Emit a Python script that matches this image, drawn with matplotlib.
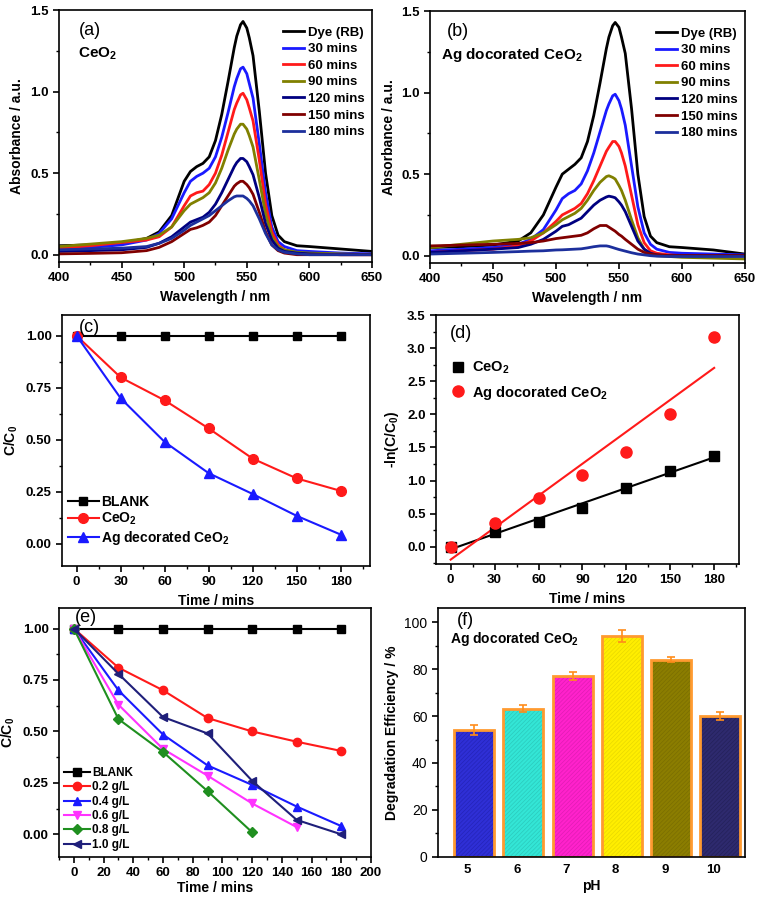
import numpy as np
import matplotlib
matplotlib.use('Agg')
import matplotlib.pyplot as plt
from matplotlib.ticker import MultipleLocator, FormatStrFormatter

plt.rcParams['font.family'] = ['Liberation Sans', 'DejaVu Sans']
plt.rcParams['font.weight'] = 'bold'
plt.rcParams['axes.labelweight'] = 'bold'
plt.rcParams['mathtext.default'] = 'regular'
plt.rcParams['axes.linewidth'] = 1.2
plt.rcParams['hatch.linewidth'] = 0.5
plt.rcParams['lines.solid_joinstyle'] = 'round'

# ---- UV-vis spectra (a) CeO2 and (b) Ag decorated CeO2 ----
wavelength = [400, 425, 450, 470, 480, 490, 500, 505, 510, 515, 520, 525, 530, 535,
              540, 542, 545, 547, 550, 552, 555, 560, 565, 570, 575, 580, 590, 600, 625, 650]
spec_labels = ['Dye (RB)', '30 mins', '60 mins', '90 mins', '120 mins', '150 mins', '180 mins']
spec_colors = ['black', '#1a1aff', '#ff1a1a', '#808000', '#000080', '#800000', '#1c2f9c']

a_dye = [.055, .06, .07, .10, .14, .24, .45, .51, .54, .56, .60, .70, .86, 1.06, 1.27, 1.34, 1.41, 1.43,
         1.39, 1.33, 1.22, .88, .50, .24, .12, .08, .055, .05, .035, .02]
a_30 = [.035, .045, .06, .09, .13, .22, .38, .45, .48, .50, .53, .60, .72, .87, 1.03, 1.08, 1.14, 1.15,
        1.11, 1.05, .96, .68, .38, .17, .08, .05, .025, .02, .01, .005]
a_60 = [.04, .055, .075, .09, .11, .17, .30, .36, .38, .39, .43, .50, .61, .75, .89, .93, .98, .99,
        .95, .90, .82, .58, .31, .14, .06, .03, .01, .005, 0, 0]
a_90 = [.05, .065, .08, .10, .12, .17, .27, .31, .33, .35, .38, .44, .53, .64, .74, .77, .80, .80,
        .77, .73, .66, .46, .25, .11, .05, .03, .015, .01, .005, 0]
a_120 = [.02, .025, .03, .045, .07, .11, .17, .20, .215, .23, .26, .31, .38, .46, .54, .565, .59, .59,
         .57, .54, .49, .35, .19, .09, .04, .02, .01, .005, 0, 0]
a_150 = [.005, .008, .012, .025, .045, .08, .13, .155, .165, .18, .20, .24, .30, .36, .42, .435, .45, .45,
         .43, .41, .37, .26, .14, .06, .025, .01, 0, 0, 0, 0]
a_180 = [.03, .035, .04, .05, .07, .10, .15, .18, .20, .22, .24, .27, .30, .33, .355, .36, .36, .36,
         .345, .33, .30, .22, .13, .06, .03, .015, .005, 0, 0, 0]

b_dye = [.05, .055, .065, .09, .14, .25, .42, .50, .53, .56, .60, .70, .86, 1.06, 1.27, 1.34, 1.41, 1.43,
         1.40, 1.34, 1.24, .90, .50, .24, .12, .08, .055, .05, .035, .01]
b_30 = [.03, .04, .05, .07, .10, .16, .28, .35, .38, .40, .44, .52, .63, .76, .89, .93, .98, .99,
        .95, .90, .80, .55, .30, .14, .07, .04, .02, .015, .01, .005]
b_60 = [.02, .03, .04, .06, .09, .14, .21, .25, .27, .29, .32, .38, .46, .55, .64, .665, .70, .70,
        .67, .63, .55, .37, .19, .08, .03, .015, .005, 0, 0, 0]
b_90 = [.05, .07, .09, .10, .11, .14, .19, .22, .24, .26, .29, .34, .40, .45, .485, .49, .48, .47,
        .43, .40, .34, .22, .11, .04, .01, 0, -.005, -.01, -.015, -.02]
b_120 = [.02, .03, .04, .05, .07, .10, .15, .18, .19, .21, .23, .27, .31, .34, .36, .365, .36, .355,
         .33, .31, .27, .18, .09, .04, .015, .005, 0, 0, 0, 0]
b_150 = [.06, .065, .07, .075, .08, .09, .105, .11, .115, .12, .125, .14, .165, .185, .185, .175, .16, .15,
         .13, .12, .10, .07, .04, .02, .01, .005, 0, 0, 0, 0]
b_180 = [.01, .015, .02, .025, .028, .03, .035, .036, .038, .04, .042, .048, .055, .06, .06, .057, .05, .045,
         .038, .034, .028, .018, .01, .005, 0, -.003, -.005, -.005, -.005, -.005]

# ---- kinetics (c), (d) ----
time = [0, 30, 60, 90, 120, 150, 180]
c_blank = [1, 1, 1, 1, 1, 1, 1]
c_ceo2 = [1.0, 0.80, 0.69, 0.555, 0.41, 0.315, 0.255]
c_ag = [1.0, 0.70, 0.49, 0.34, 0.24, 0.135, 0.045]
ln_ceo2 = [0, 0.22, 0.38, 0.59, 0.89, 1.15, 1.37]
ln_ag = [0, 0.36, 0.73, 1.08, 1.43, 2.01, 3.17]

# ---- catalyst dose (e) ----
dose_labels = ['BLANK', '0.2 g/L', '0.4 g/L', '0.6 g/L', '0.8 g/L', '1.0 g/L']
e_blank = [1, 1, 1, 1, 1, 1, 1]
e_02 = [1, 0.81, 0.70, 0.565, 0.50, 0.45, 0.405]
e_04 = [1, 0.70, 0.485, 0.335, 0.24, 0.135, 0.04]
e_06 = [1, 0.63, 0.415, 0.285, 0.15, 0.035]
e_08 = [1, 0.56, 0.40, 0.21, 0.01]
e_10 = [1, 0.78, 0.57, 0.49, 0.26, 0.07, 0.0]

# ---- pH (f) ----
ph = ['5', '6', '7', '8', '9', '10']
efficiency = [54, 63, 77, 94, 84, 60]
eff_err = [2.0, 1.5, 1.8, 2.5, 1.2, 1.8]
bar_colors = ['#2f2fd6', '#33e6d6', '#ff22cc', '#ffee00', '#8b7d00', '#2e2a6e']
bar_hatch = ['#2424b8', '#2ccabc', '#e01cb4', '#e8d800', '#7a6e00', '#24215a']

fig = plt.figure(figsize=(7.57, 8.98), dpi=100)


def style(ax, ymaj, ymin, xmaj=None, xmin=None):
    if xmaj is not None:
        ax.xaxis.set_major_locator(MultipleLocator(xmaj))
    ax.xaxis.set_minor_locator(MultipleLocator(xmin))
    ax.yaxis.set_major_locator(MultipleLocator(ymaj))
    ax.yaxis.set_minor_locator(MultipleLocator(ymin))
    ax.tick_params(which='major', direction='out', length=4, width=1.2, labelsize=9.5)
    ax.tick_params(which='minor', direction='out', length=2.5, width=1.0)
    for lab in ax.get_xticklabels() + ax.get_yticklabels():
        lab.set_fontweight('bold')


# (a), (b)
panels = [([0.0779, 0.7082, 0.4135, 0.2806], [a_dye, a_30, a_60, a_90, a_120, a_150, a_180],
           '(a)', 0.065, 'CeO$_2$', 0.06),
          ([0.568, 0.7071, 0.4161, 0.2806], [b_dye, b_30, b_60, b_90, b_120, b_150, b_180],
           '(b)', 0.055, 'Ag docorated CeO$_2$', 0.035)]
for pos, data, tag, tx, name, nx in panels:
    ax = fig.add_axes(pos)
    for y, lab, col in zip(data, spec_labels, spec_colors):
        ax.plot(wavelength, y, color=col, lw=2, label=lab)
    ax.set_xlim(400, 650)
    ax.set_ylim(-0.045, 1.5)
    style(ax, 0.5, 0.25, 50, 25)
    ax.set_xlabel('Wavelength / nm', fontsize=10)
    ax.set_ylabel('Absorbance / a.u.', fontsize=10)
    ax.text(tx, 0.92, tag, transform=ax.transAxes, fontsize=13, fontweight='normal', va='center')
    ax.text(nx, 0.825, name, transform=ax.transAxes, fontsize=11, va='center')
    ax.legend(frameon=False, loc='upper left', bbox_to_anchor=(0.716, 0.935), borderpad=0,
              borderaxespad=0, handlelength=1.6, handletextpad=0.3, labelspacing=0.33,
              prop={'weight': 'bold', 'size': 9.5})

# (c)
ax = fig.add_axes([0.0819, 0.3697, 0.4069, 0.2795])
ax.plot(time, c_blank, '-s', color='black', lw=1.5, ms=6, label='BLANK')
ax.plot(time, c_ceo2, '-o', color='#ff1a1a', lw=1.5, ms=7, label='CeO$_2$')
ax.plot(time, c_ag, '-^', color='#1a1aff', lw=1.5, ms=7, label='Ag decorated CeO$_2$')
ax.set_xlim(-10, 200)
ax.set_ylim(-0.106, 1.10)
ax.set_xticks(time)
style(ax, 0.25, 0.125, xmin=15)
ax.yaxis.set_major_formatter(FormatStrFormatter('%.2f'))
ax.set_xlabel('Time / mins', fontsize=10)
ax.set_ylabel('C/C$_0$', fontsize=10)
ax.text(0.055, 0.95, '(c)', transform=ax.transAxes, fontsize=13, fontweight='normal', va='center')
ax.legend(frameon=False, loc='lower left', bbox_to_anchor=(0.02, 0.075), borderpad=0, borderaxespad=0,
          handlelength=2.2, handletextpad=0.2, labelspacing=0.15, prop={'weight': 'bold', 'size': 10})

# (d)
ax = fig.add_axes([0.576, 0.3719, 0.4003, 0.2773])
t = np.array(time)
k1 = np.polyfit(t, ln_ceo2, 1)
k2 = np.polyfit(t, ln_ag, 1)
ax.plot(t, np.polyval(k1, t), color='black', lw=1.5)
ax.plot(t, np.polyval(k2, t), color='#ff1a1a', lw=1.5)
ax.plot(time, ln_ceo2, 's', color='black', ms=7, label='CeO$_2$')
ax.plot(time, ln_ag, 'o', color='#ff1a1a', ms=8, label='Ag docorated CeO$_2$')
ax.set_xlim(-10, 197)
ax.set_ylim(-0.26, 3.5)
ax.set_xticks(time)
style(ax, 0.5, 0.25, xmin=15)
ax.yaxis.set_major_formatter(FormatStrFormatter('%.1f'))
ax.set_xlabel('Time / mins', fontsize=10)
ax.set_ylabel('-ln(C/C$_0$)', fontsize=10)
ax.text(0.045, 0.925, '(d)', transform=ax.transAxes, fontsize=13, fontweight='normal', va='center')
ax.legend(frameon=False, loc='upper left', bbox_to_anchor=(0.05, 0.82), borderpad=0, borderaxespad=0,
          handlelength=1.0, handletextpad=0.4, labelspacing=0.5, prop={'weight': 'bold', 'size': 10.5})

# (e)
ax = fig.add_axes([0.0779, 0.0457, 0.4122, 0.2773])
e_series = [e_blank, e_02, e_04, e_06, e_08, e_10]
e_marks = ['s', 'o', '^', 'v', 'D', '<']
e_colors = ['black', '#ff1a1a', '#1a1aff', '#ff33ff', '#1f8f1f', '#1f1f7a']
for y, lab, mk, col in zip(e_series, dose_labels, e_marks, e_colors):
    ax.plot(time[:len(y)], y, '-' + mk, color=col, lw=1.5, ms=6 if mk != 'D' else 5, label=lab)
ax.set_xlim(-10, 200)
ax.set_ylim(-0.11, 1.1)
style(ax, 0.25, 0.125, 20, 10)
ax.yaxis.set_major_formatter(FormatStrFormatter('%.2f'))
ax.set_xlabel('Time / mins', fontsize=10, labelpad=1)
ax.set_ylabel('C/C$_0$', fontsize=10)
ax.text(0.05, 0.96, '(e)', transform=ax.transAxes, fontsize=13, fontweight='normal', va='center')
ax.legend(frameon=False, loc='lower left', bbox_to_anchor=(0.015, 0.025), borderpad=0, borderaxespad=0,
          handlelength=2.2, handletextpad=0.2, labelspacing=0.2, prop={'weight': 'bold', 'size': 8.5})

# (f)
ax = fig.add_axes([0.5786, 0.0457, 0.4056, 0.2773])
xpos = np.arange(len(ph))
ax.bar(xpos, efficiency, width=0.81, color=bar_colors, edgecolor=bar_hatch, hatch='////////', lw=0)
ax.bar(xpos, efficiency, width=0.81, color='none', edgecolor='#ff9a30', lw=2)
ax.errorbar(xpos, efficiency, yerr=eff_err, fmt='none', ecolor='#ff8c1a', elinewidth=1.2, capsize=3,
            capthick=1.2)
ax.set_xlim(-0.73, 5.5)
ax.set_ylim(0, 106)
ax.set_xticks(xpos - 0.13)
ax.set_xticklabels(ph, fontweight='bold', fontsize=9.5)
ax.tick_params(axis='x', length=0, pad=5)
ax.yaxis.set_major_locator(MultipleLocator(20))
ax.yaxis.set_minor_locator(MultipleLocator(10))
ax.tick_params(axis='y', which='major', direction='out', length=4, width=1.2, labelsize=10)
ax.tick_params(axis='y', which='minor', direction='out', length=2.5, width=1.0)
for lab in ax.get_yticklabels():
    lab.set_fontweight('normal')
ax.set_xlabel('pH', fontsize=10, labelpad=2)
ax.set_ylabel('Degradation Efficiency / %', fontsize=10)
ax.text(0.06, 0.95, '(f)', transform=ax.transAxes, fontsize=13, fontweight='normal', va='center')
ax.text(0.04, 0.875, 'Ag docorated CeO$_2$', transform=ax.transAxes, fontsize=10, va='center')

fig.savefig('out.png', dpi=100)
